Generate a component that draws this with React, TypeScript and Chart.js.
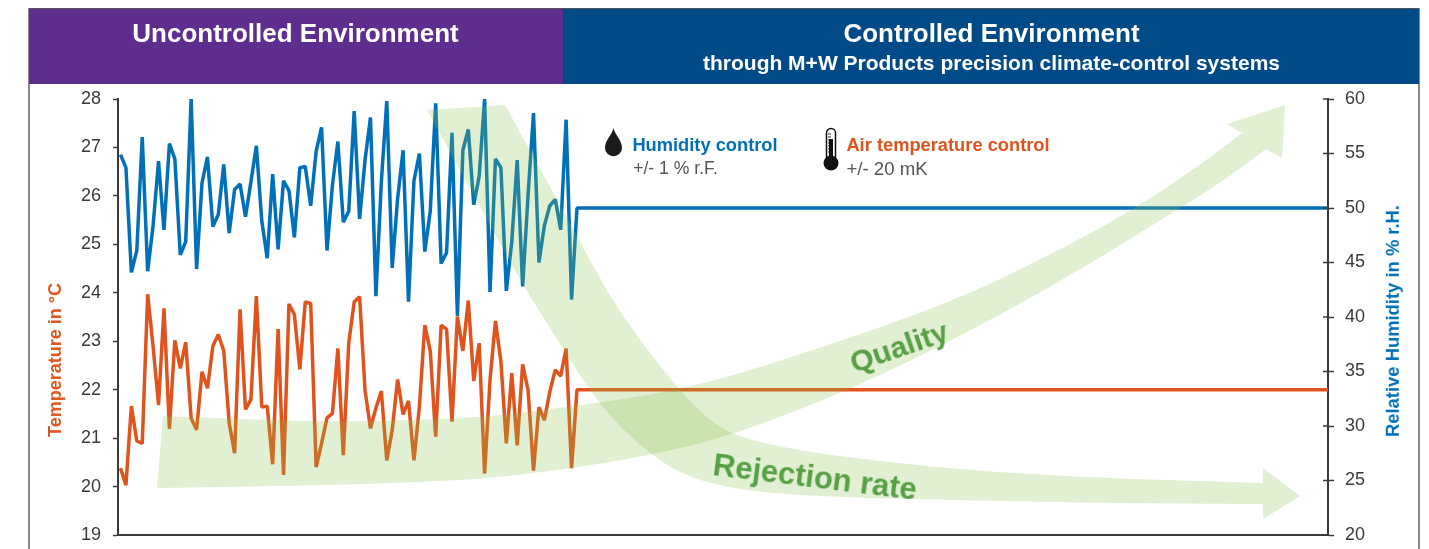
import React, { useEffect, useRef } from "react";
import { Chart, registerables } from "chart.js";

Chart.register(...registerables);

const FONT = '"Liberation Sans", Arial, sans-serif';

const sampleIndex = [
  0, 1, 2, 3, 4, 5, 6, 7, 8, 9, 10, 11, 12, 13, 14, 15, 16, 17, 18, 19, 20,
  21, 22, 23, 24, 25, 26, 27, 28, 29, 30, 31, 32, 33, 34, 35, 36, 37, 38, 39, 40,
  41, 42, 43, 44, 45, 46, 47, 48, 49, 50, 51, 52, 53, 54, 55, 56, 57, 58, 59, 60,
  61, 62, 63, 64, 65, 66, 67, 68, 69, 70, 71, 72, 73, 74, 75, 76, 77, 78, 79, 80,
  81, 82, 83, 84, 222.2,
];

const temperature = [
  20.38, 20.03, 21.66, 20.94, 20.89, 23.97, 22.89, 21.68, 23.68, 21.19, 23.02,
  22.44, 22.98, 21.41, 21.17, 22.37, 22.03, 22.9, 23.14, 22.8, 21.31,
  20.69, 23.66, 21.59, 21.8, 23.93, 21.64, 21.66, 20.46, 23.25, 20.24,
  23.77, 23.55, 22.42, 23.81, 23.78, 20.4, 20.89, 21.42, 21.51, 22.85,
  20.65, 22.96, 23.81, 23.92, 21.99, 21.2, 21.62, 21.97, 20.54, 21.17,
  22.21, 21.49, 21.77, 20.54, 21.65, 23.33, 22.8, 21.03, 23.33, 23.25,
  21.34, 23.51, 22.8, 23.84, 22.18, 22.96, 20.27, 22.2, 23.42, 22.58,
  20.89, 22.34, 20.85, 22.52, 21.99, 20.33, 21.64, 21.37, 21.96, 22.41,
  22.28, 22.85, 20.38, 22, 22,
];

const humidity = [
  54.9, 53.7, 44.1, 46.1, 56.5, 44.2, 48.4, 54.3, 48.0, 55.9, 54.5,
  45.7, 46.9, 60.0, 44.4, 52.3, 54.7, 48.3, 49.4, 54.0, 47.7,
  51.7, 52.2, 49.2, 52.4, 55.7, 48.8, 45.4, 53.1, 46.2, 52.5,
  51.6, 47.3, 53.7, 53.8, 50.2, 55.2, 57.4, 46.1, 52.1, 56.1,
  48.7, 49.7, 58.9, 49.0, 54.4, 58.3, 41.9, 52.4, 59.8, 44.5,
  50.9, 55.3, 41.4, 52.5, 55.0, 46.0, 49.7, 59.6, 44.9, 45.9,
  56.9, 40.1, 55.3, 57.2, 50.3, 52.9, 60.0, 42.3, 54.5, 53.7,
  42.4, 46.9, 54.4, 42.8, 51.2, 58.7, 45.0, 48.4, 50.2, 50.8,
  48.0, 58.1, 41.6, 50, 50,
];

const ORANGE = "#e0531c";
const BLUE = "#0070b8";
const TICK = "#3a3a3a";
const ARROW_FILL = "rgba(135,190,75,0.25)";

type P = [number, number];

const qualityUpper: P[] = [[163, 416], [260, 420], [350, 422], [480, 418], [560, 408], [680, 391], [800, 355], [950, 303], [1050, 255], [1133, 210], [1200, 165], [1242, 133]];
const qualityHead: P[] = [[1227, 124], [1285, 105], [1282, 158], [1266, 149]];
const qualityLower: P[] = [[1266, 149], [1225, 180], [1180, 208], [1080, 270], [973, 330], [850, 390], [733, 435], [653, 455], [560, 470], [473, 480], [340, 485], [157, 488]];

const rejectionUpper: P[] = [[505, 105], [548, 183], [590, 260], [612, 300], [645, 347], [680, 391], [717, 428], [760, 443], [827, 455], [960, 470], [1100, 478], [1263, 483]];
const rejectionHead: P[] = [[1263, 468], [1300, 496], [1263, 519], [1263, 504]];
const rejectionLower: P[] = [[1263, 504], [1100, 503], [960, 500], [860, 498], [760, 493], [693, 480], [650, 455], [600, 407], [548, 325], [520, 280], [475, 197], [427, 110]];

function smoothTo(ctx: CanvasRenderingContext2D, pts: P[]) {
  for (let i = 1; i < pts.length - 1; i++) {
    const mx = (pts[i][0] + pts[i + 1][0]) / 2;
    const my = (pts[i][1] + pts[i + 1][1]) / 2;
    ctx.quadraticCurveTo(pts[i][0], pts[i][1], mx, my);
  }
  const last = pts[pts.length - 1];
  ctx.lineTo(last[0], last[1]);
}

function arrow(ctx: CanvasRenderingContext2D, upper: P[], head: P[], lower: P[]) {
  ctx.beginPath();
  ctx.moveTo(upper[0][0], upper[0][1]);
  smoothTo(ctx, upper);
  head.forEach((p) => ctx.lineTo(p[0], p[1]));
  smoothTo(ctx, lower);
  ctx.closePath();
  ctx.fillStyle = ARROW_FILL;
  ctx.fill();
}

const overlayPlugin = {
  id: "overlay",
  afterDatasetsDraw(chart: any) {
    const ctx = chart.ctx as CanvasRenderingContext2D;
    ctx.save();
    arrow(ctx, qualityUpper, qualityHead, qualityLower);
    arrow(ctx, rejectionUpper, rejectionHead, rejectionLower);
    const right = chart.scales.yH;
    ctx.strokeStyle = TICK;
    ctx.lineWidth = 1.5;
    right.ticks.forEach((t: any) => {
      const y = right.getPixelForValue(t.value);
      ctx.beginPath();
      ctx.moveTo(right.left - 5, y);
      ctx.lineTo(right.left, y);
      ctx.stroke();
    });
    ctx.restore();
  },
};

function Label(props: { x: number; y: number; rot?: number; size: number; color: string; bold?: boolean; spacing?: number; children: React.ReactNode }) {
  const { x, y, rot = 0, size, color, bold = true, spacing = 0, children } = props;
  return (
    <div
      style={{
        position: "absolute",
        left: x,
        top: y,
        transform: `translate(-50%, -50%) rotate(${rot}deg)`,
        fontFamily: FONT,
        fontWeight: bold ? 700 : 400,
        fontSize: size,
        letterSpacing: spacing,
        color,
        whiteSpace: "nowrap",
        lineHeight: 1,
      }}
    >
      {children}
    </div>
  );
}

export default function App() {
  const ref = useRef<HTMLCanvasElement>(null);

  useEffect(() => {
    const toPoints = (ys: number[]) => ys.map((y, i) => ({ x: sampleIndex[i], y }));
    const tickFont = { family: FONT, size: 18 };
    const chart = new Chart(ref.current!, {
      type: "line",
      plugins: [overlayPlugin],
      data: {
        datasets: [
          {
            label: "Temperature in °C",
            data: toPoints(temperature),
            yAxisID: "yT",
            borderColor: ORANGE,
            borderWidth: 3.5,
            borderJoinStyle: "bevel",
            pointRadius: 0,
            tension: 0,
            clip: false,
          },
          {
            label: "Relative Humidity in % r.H.",
            data: toPoints(humidity),
            yAxisID: "yH",
            borderColor: BLUE,
            borderWidth: 3.5,
            borderJoinStyle: "bevel",
            pointRadius: 0,
            tension: 0,
            clip: false,
          },
        ],
      },
      options: {
        responsive: false,
        animation: false,
        layout: { padding: { top: 99 } },
        plugins: { legend: { display: false }, tooltip: { enabled: false }, title: { display: false } },
        scales: {
          x: {
            type: "linear",
            min: -0.46,
            max: 222.2,
            ticks: { display: false },
            grid: { display: false, drawTicks: false },
            border: { display: true, color: TICK, width: 2 },
            afterFit: (s: any) => {
              s.height = 14;
            },
          },
          yT: {
            position: "left",
            min: 19,
            max: 28,
            ticks: { stepSize: 1, color: TICK, font: tickFont, padding: 12 },
            grid: { drawOnChartArea: false, tickLength: 5, tickColor: TICK, tickWidth: 1.5 },
            border: { display: true, color: TICK, width: 2 },
            afterFit: (s: any) => {
              s.width = 118;
              s.paddingTop = 0;
              s.paddingBottom = 0;
            },
          },
          yH: {
            position: "right",
            min: 20,
            max: 60,
            ticks: { stepSize: 5, color: TICK, font: tickFont, padding: 11 },
            grid: { drawOnChartArea: false, tickLength: 6, tickColor: TICK, tickWidth: 1.5 },
            border: { display: true, color: TICK, width: 2 },
            afterFit: (s: any) => {
              s.width = 1429 - 1328;
              s.paddingTop = 0;
              s.paddingBottom = 0;
            },
          },
        },
      },
    } as any);
    return () => chart.destroy();
  }, []);

  return (
    <div style={{ position: "absolute", left: 0, top: 0, width: 1429, height: 549, overflow: "hidden", background: "#fff" }}>
      <div style={{ position: "absolute", left: 28, top: 8, width: 1392, height: 541, borderLeft: "2px solid #888", borderRight: "2px solid #888", borderTop: "1px solid #555", boxSizing: "border-box" }} />
      <div style={{ position: "absolute", left: 29, top: 9, width: 534, height: 75, background: "#5e2d8d" }} />
      <div style={{ position: "absolute", left: 563, top: 9, width: 856, height: 75, background: "#004b87" }} />
      <canvas ref={ref} width={1429} height={549} style={{ position: "absolute", left: 0, top: 0, width: 1429, height: 549 }} />

      <Label x={295.5} y={33} size={26} color="#fff">Uncontrolled Environment</Label>
      <Label x={991.5} y={33} size={26} color="#fff">Controlled Environment</Label>
      <Label x={991.5} y={62} size={21} color="#fff">through M+W Products precision climate-control systems</Label>

      <Label x={55} y={359.5} rot={-90} size={18} color={ORANGE}>Temperature in °C</Label>
      <Label x={1393} y={321} rot={-90} size={18.4} color={BLUE}>Relative Humidity in % r.H.</Label>

      <Label x={705} y={145} size={18.3} color={BLUE}>Humidity control</Label>
      <Label x={675.5} y={169} size={17.6} color="#555" bold={false}>+/- 1 % r.F.</Label>
      <Label x={948} y={145} size={18.3} color={ORANGE}>Air temperature control</Label>
      <Label x={887} y={169} size={18.6} color="#555" bold={false}>+/- 20 mK</Label>

      <Label x={899} y={347} rot={-19} size={30} color="#56a045">Quality</Label>
      <Label x={815} y={477} rot={7} size={31} color="#56a045">Rejection rate</Label>

      <svg style={{ position: "absolute", left: 600, top: 125 }} width={30} height={34} viewBox="0 0 30 34">
        <path d="M13.5 3 C15 10 22 15 22 23 A8.5 8.2 0 0 1 5 23 C5 15 12 10 13.5 3 Z" fill="#1a1a1a" />
      </svg>
      <svg style={{ position: "absolute", left: 820, top: 125 }} width={22} height={50} viewBox="0 0 22 50">
        <rect x="6.5" y="3.5" width="9" height="33" rx="4.5" fill="#fff" stroke="#111" strokeWidth="1.5" />
        <rect x="9" y="14" width="4" height="22" fill="#111" />
        <path d="M8 9h3M8 12h3M8 15h3M8 18h3M8 21h3M8 24h3M8 27h3" stroke="#111" strokeWidth="0.9" />
        <circle cx="11" cy="38" r="7.5" fill="#111" />
      </svg>
    </div>
  );
}
